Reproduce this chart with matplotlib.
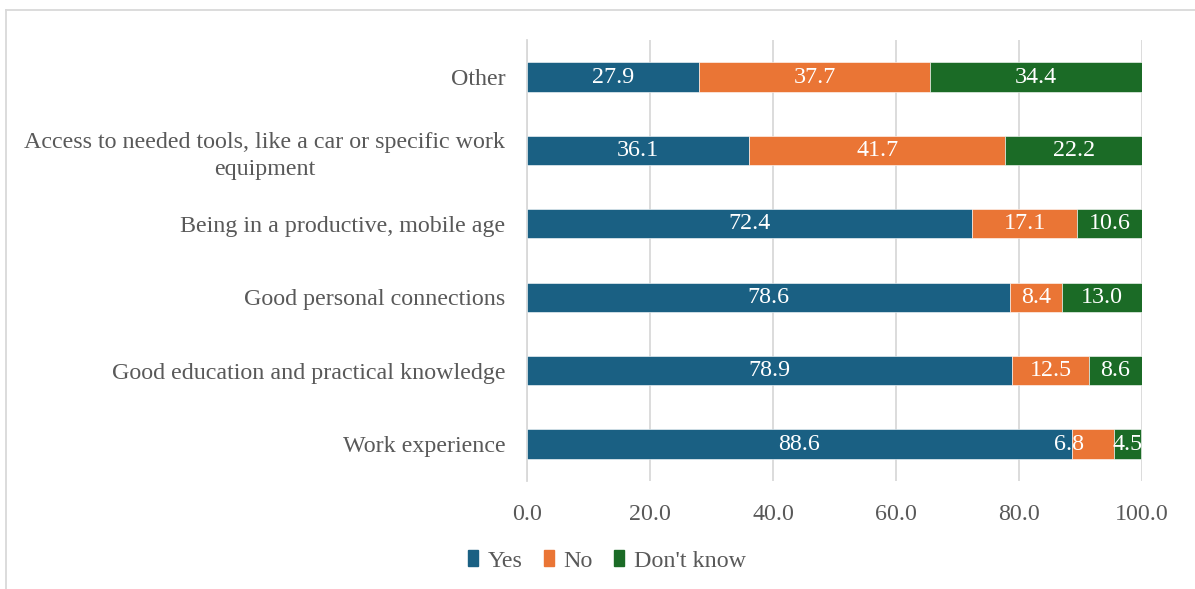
import matplotlib
matplotlib.use("Agg")
import matplotlib.pyplot as plt
from matplotlib.lines import Line2D
import numpy as np

categories = [
    "Work experience",
    "Good education and practical knowledge",
    "Good personal connections",
    "Being in a productive, mobile age",
    "Access to needed tools, like a car or specific work\nequipment",
    "Other",
]
yes = [88.6, 78.9, 78.6, 72.4, 36.1, 27.9]
no = [6.8, 12.5, 8.4, 17.1, 41.7, 37.7]
dont_know = [4.5, 8.6, 13.0, 10.6, 22.2, 34.4]
series_names = ["Yes", "No", "Don't know"]
x_ticks = [0, 20, 40, 60, 80, 100]

colors = ["#1A6083", "#EA7535", "#1B6B26"]
text_gray = "#595959"
grid_gray = "#D9D9D9"

plt.rcParams["font.family"] = ["Liberation Serif", "DejaVu Serif"]
fs = 17.3

fig = plt.figure(figsize=(11.95, 5.89), dpi=100)
ax = fig.add_axes([527 / 1195, 1 - 480.7 / 589, (1142 - 527) / 1195, (480.7 - 40.3) / 589])

y = np.arange(len(categories))
left = np.zeros(len(categories))
series = [yes, no, dont_know]
bars_all = []
for vals, col, name in zip(series, colors, series_names):
    vals = np.array(vals)
    bars = ax.barh(y, vals, left=left, height=0.4, color=col, label=name,
                   edgecolor="white", linewidth=0.4, zorder=3)
    bars_all.append((bars, vals, left.copy()))
    left = left + vals

# white value labels centred in each segment; the narrow "No" segment in the
# bottom row is nudged left so it does not collide with its neighbour
nudge = {(0, 1): -3.9}
for s, (bars, vals, lefts) in enumerate(bars_all):
    for i, (v, l) in enumerate(zip(vals, lefts)):
        xc = l + v / 2 + nudge.get((i, s), 0)
        ax.text(xc, y[i], f"{v:.1f}", ha="center", va="center",
                color="white", fontsize=fs, zorder=4)

ax.set_xlim(0, 100)
ax.set_ylim(-0.5, len(categories) - 0.5)
ax.set_xticks(x_ticks)
ax.set_xticklabels([f"{t:.1f}" for t in x_ticks])
ax.set_yticks(y)
ax.set_yticklabels(categories)
for lab in ax.get_yticklabels():
    lab.set_multialignment("center")
    lab.set_linespacing(1.35)
ax.tick_params(axis="both", length=0, labelsize=fs, colors=text_gray)
ax.tick_params(axis="x", pad=17)
ax.tick_params(axis="y", pad=15.5)
ax.xaxis.grid(True, color=grid_gray, linewidth=1.3, zorder=0)
ax.set_axisbelow(True)
for side in ["top", "right", "bottom"]:
    ax.spines[side].set_visible(False)
ax.spines["left"].set_color(grid_gray)
ax.spines["left"].set_linewidth(1.3)

handles = [plt.Rectangle((0, 0), 1, 1, color=c) for c in colors]
fig.legend(handles, series_names, loc="center",
           bbox_to_anchor=(607 / 1195, 1 - 561 / 589), ncol=3, frameon=False,
           fontsize=fs, handlelength=0.4, handleheight=0.65,
           handletextpad=0.4, columnspacing=0.9, labelcolor=text_gray)

# chart-area frame
fig.add_artist(Line2D([6 / 1195, 1], [1 - 10 / 589, 1 - 10 / 589],
                      color="#D9D9D9", linewidth=1.3, transform=fig.transFigure))
fig.add_artist(Line2D([6 / 1195, 6 / 1195], [0, 1 - 10 / 589],
                      color="#D9D9D9", linewidth=1.3, transform=fig.transFigure))

fig.savefig("out.png", dpi=100)
